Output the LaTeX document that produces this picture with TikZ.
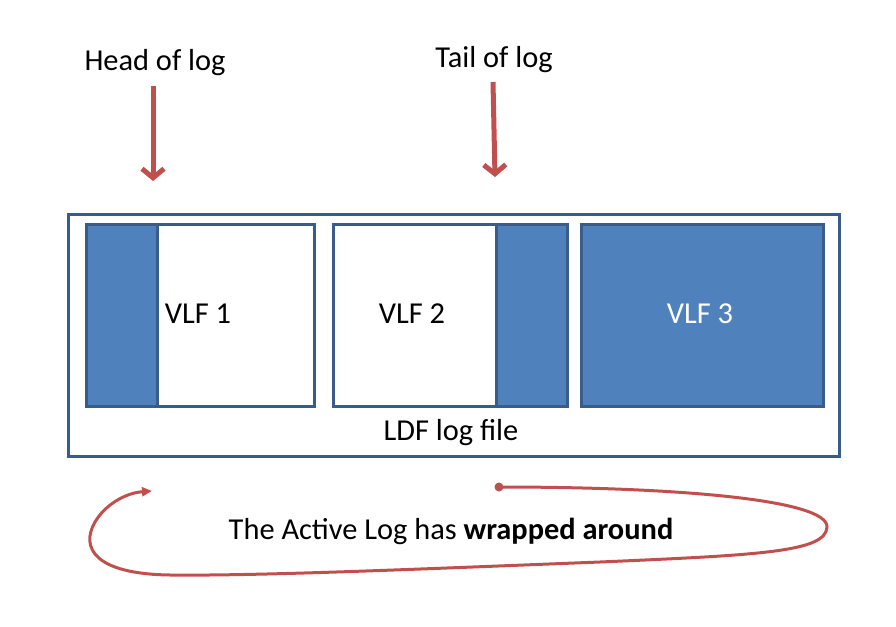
\documentclass[tikz,border=0pt]{standalone}
\usepackage{fontspec}
\setmainfont{Carlito}
\usetikzlibrary{arrows.meta}
\definecolor{vblue}{HTML}{4F81BD}
\definecolor{vedge}{HTML}{385D8A}
\definecolor{vred}{HTML}{C0504D}
\tikzset{
  box/.style={draw=vedge, line width=3pt, inner sep=0pt, anchor=north west},
  lbl/.style={font=\fontsize{30.4}{36}\selectfont, inner sep=0pt},
  pointer/.style={draw=vred, line width=5pt, -{Straight Barb[length=9pt,width=22pt]}},
  wrap/.style={draw=vred, line width=3pt, -{Triangle[length=10pt,width=9pt]}}
}
\begin{document}
\begin{tikzpicture}[x=1pt,y=-1pt]
\useasboundingbox (0,0) rectangle (896,626);
% outer box
\node[box, minimum width=771pt, minimum height=242pt] (ldf) at (66.5,212.5) {};
% VLF 1
\node[box, fill=vblue, minimum width=71pt, minimum height=182pt] (v1a) at (85,222.5) {};
\node[box, minimum width=157pt, minimum height=182pt] (v1b) at (156,222.5) {};
% VLF 2
\node[box, minimum width=163pt, minimum height=182pt] (v2a) at (332,222.5) {};
\node[box, fill=vblue, minimum width=71pt, minimum height=182pt] (v2b) at (495,222.5) {};
% VLF 3
\node[box, fill=vblue, minimum width=242pt, minimum height=182pt] (v3) at (580,222.5) {};
% labels
\node[lbl] (t1) at (198,314) {VLF 1};
\node[lbl] (t2) at (412,314) {VLF 2};
\node[lbl, text=white] (t3) at (700,314) {VLF 3};
\node[lbl] (tl) at (451,433) {LDF log file};
\node[lbl] (head) at (155,63) {Head of log};
\node[lbl] (tail) at (494,60) {Tail of log};
\node[lbl] (wrapt) at (451,531) {The Active Log has \textbf{wrapped around}};
% pointers
\coordinate (hs) at (153,86);
\coordinate (he) at (153,181);
\coordinate (ts) at (493,82);
\coordinate (te) at (495,177);
\draw[pointer] (hs) -- (he);
\draw[pointer] (ts) -- (te);
% wrap-around curve
\coordinate (ws) at (499,487);
\coordinate (we) at (152,491);
\fill[vred] (ws) circle (4.5pt);
\draw[wrap] (ws) .. controls (680,487) and (828,500) .. (827,527)
  .. controls (826,552) and (760,555) .. (600,562)
  .. controls (420,569) and (260,576) .. (170,575)
  .. controls (95,574) and (80,548) .. (95,522)
  .. controls (105,505) and (125,493) .. (we);
\end{tikzpicture}
\end{document}
